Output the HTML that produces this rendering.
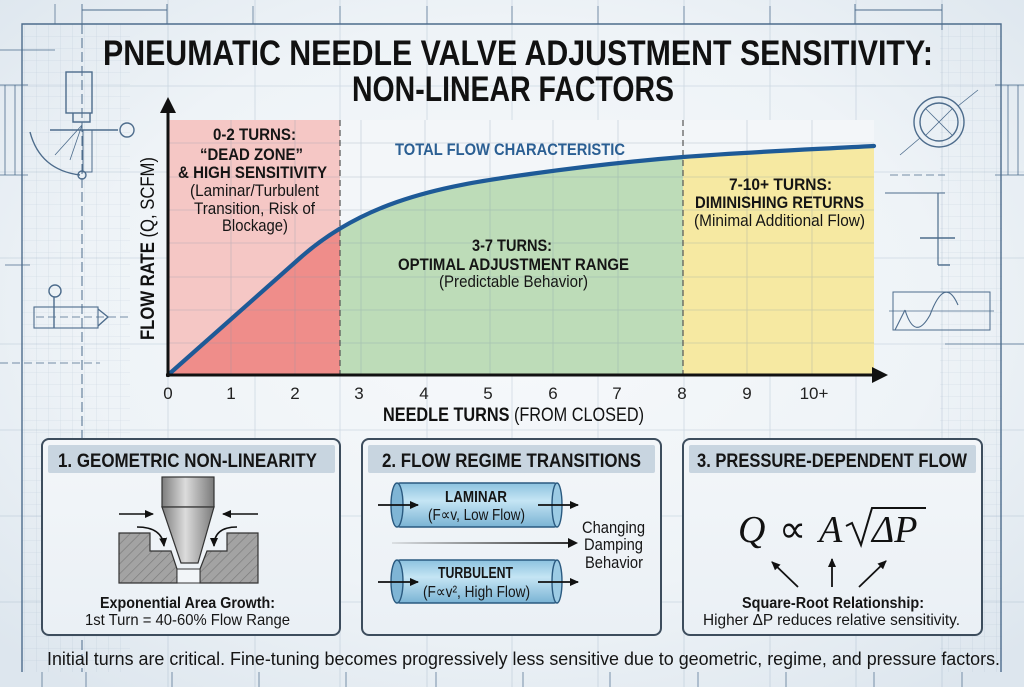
<!DOCTYPE html>
<html><head><meta charset="utf-8"><style>
html,body{margin:0;padding:0;background:#e8eef3;}
svg{display:block;}
text{font-family:"Liberation Sans",sans-serif;}
text.serif{font-family:"Liberation Serif",serif;}
</style></head><body>
<svg xmlns="http://www.w3.org/2000/svg" width="1024" height="687" viewBox="0 0 1024 687">
<defs>
<radialGradient id="bg" cx="0.5" cy="0.45" r="0.7">
<stop offset="0" stop-color="#f7f9fb"/><stop offset="0.6" stop-color="#eef3f7"/><stop offset="1" stop-color="#dde6ee"/>
</radialGradient>
<pattern id="fine" width="12" height="12" patternUnits="userSpaceOnUse">
<path d="M12 0 L0 0 0 12" fill="none" stroke="#6f8aa6" stroke-width="0.6" opacity="0.45"/>
</pattern>
<pattern id="hatch" width="7" height="7" patternUnits="userSpaceOnUse" patternTransform="rotate(45)">
<rect width="7" height="7" fill="#a3a3a3"/><line x1="0" y1="0" x2="0" y2="7" stroke="#7a7a7a" stroke-width="1.3"/>
</pattern>
<linearGradient id="metal" x1="0" x2="1" y1="0" y2="0">
<stop offset="0" stop-color="#7d7d7d"/><stop offset="0.45" stop-color="#dcdcdc"/><stop offset="1" stop-color="#7a7a7a"/>
</linearGradient>
<linearGradient id="pipe" x1="0" x2="0" y1="0" y2="1">
<stop offset="0" stop-color="#8cc2df"/><stop offset="0.4" stop-color="#c5e5f4"/><stop offset="1" stop-color="#7ab3d4"/>
</linearGradient>
<linearGradient id="panel" x1="0" x2="0" y1="0" y2="1">
<stop offset="0" stop-color="#f3f6f9"/><stop offset="1" stop-color="#eaf0f5"/>
</linearGradient>
<linearGradient id="midarrow" gradientUnits="userSpaceOnUse" x1="392" y1="543" x2="575" y2="543">
<stop offset="0" stop-color="#111" stop-opacity="0.1"/><stop offset="1" stop-color="#111"/>
</linearGradient>
<marker id="ah" markerWidth="10" markerHeight="10" refX="8" refY="5" orient="auto" markerUnits="userSpaceOnUse">
<path d="M0,1 L9,5 L0,9 Z" fill="#111"/>
</marker>
<clipPath id="cR"><rect x="168" y="100" width="172" height="276"/></clipPath>
<clipPath id="cG"><rect x="340" y="100" width="343" height="276"/></clipPath>
<clipPath id="cY"><rect x="683" y="100" width="191" height="276"/></clipPath>
</defs>

<rect width="1024" height="687" fill="url(#bg)"/>

<!-- background blueprint grid -->
<g stroke="#7d97b0" stroke-width="0.8" opacity="0.3">
<line x1="168" y1="0" x2="168" y2="687"/><line x1="255" y1="0" x2="255" y2="687"/><line x1="340" y1="0" x2="340" y2="687"/>
<line x1="427" y1="0" x2="427" y2="687"/><line x1="512" y1="0" x2="512" y2="687"/><line x1="598" y1="0" x2="598" y2="687"/>
<line x1="684" y1="0" x2="684" y2="687"/><line x1="770" y1="0" x2="770" y2="687"/><line x1="856" y1="0" x2="856" y2="687"/>
<line x1="942" y1="0" x2="942" y2="687"/>
<line x1="0" y1="86" x2="1024" y2="86"/><line x1="0" y1="172" x2="1024" y2="172"/><line x1="0" y1="258" x2="1024" y2="258"/>
<line x1="0" y1="344" x2="1024" y2="344"/><line x1="0" y1="430" x2="1024" y2="430"/><line x1="0" y1="516" x2="1024" y2="516"/>
<line x1="0" y1="602" x2="1024" y2="602"/>
</g>
<rect x="22" y="24" width="108" height="648" fill="url(#fine)" opacity="0.6"/>
<rect x="940" y="24" width="62" height="648" fill="url(#fine)" opacity="0.6"/>

<!-- frame -->
<g stroke="#4d6c8c" stroke-width="1.4" fill="none">
<polyline points="22,672 22,24 1001,24 1001,672"/>
<line x1="82" y1="24" x2="82" y2="672" stroke-dasharray="10,4" stroke-width="1"/>
<line x1="82" y1="10" x2="167" y2="10" stroke-width="0.9"/>
<line x1="82" y1="4" x2="82" y2="24" stroke-width="0.9"/><line x1="167" y1="4" x2="167" y2="24" stroke-width="0.9"/>
<line x1="855" y1="10" x2="942" y2="10" stroke-width="0.9"/>
<line x1="855" y1="4" x2="855" y2="24" stroke-width="0.9"/><line x1="942" y1="4" x2="942" y2="30" stroke-width="0.9"/>
<g stroke-width="0.9" opacity="0.8">
<line x1="55" y1="4" x2="55" y2="24"/><line x1="253" y1="6" x2="253" y2="24"/><line x1="340" y1="6" x2="340" y2="24"/><line x1="427" y1="6" x2="427" y2="24"/>
<line x1="512" y1="6" x2="512" y2="24"/><line x1="598" y1="6" x2="598" y2="24"/><line x1="684" y1="6" x2="684" y2="24"/><line x1="770" y1="6" x2="770" y2="24"/>
<line x1="42" y1="672" x2="42" y2="687"/><line x1="86" y1="672" x2="86" y2="687"/><line x1="172" y1="672" x2="172" y2="687"/><line x1="259" y1="672" x2="259" y2="687"/>
<line x1="346" y1="672" x2="346" y2="687"/><line x1="436" y1="672" x2="436" y2="687"/><line x1="523" y1="672" x2="523" y2="687"/><line x1="610" y1="672" x2="610" y2="687"/>
<line x1="698" y1="672" x2="698" y2="687"/><line x1="786" y1="672" x2="786" y2="687"/><line x1="874" y1="672" x2="874" y2="687"/><line x1="962" y1="672" x2="962" y2="687"/>
</g>
<!-- left valve drawing -->
<rect x="66" y="72" width="26" height="41"/>
<polyline points="73,113 73,122 90,122 90,113"/>
<rect x="83" y="130" width="9" height="42" stroke-width="1"/>
<line x1="50" y1="130" x2="118" y2="130"/><circle cx="127" cy="130" r="7"/>
<path d="M30,132 Q40,170 80,175"/><circle cx="82" cy="175" r="4"/>
<line x1="82" y1="125" x2="55" y2="155" stroke-width="0.8"/><line x1="82" y1="125" x2="70" y2="160" stroke-width="0.8"/>
<line x1="5" y1="85" x2="5" y2="175" stroke-width="0.8"/><line x1="15" y1="85" x2="15" y2="175" stroke-width="0.8"/>
<line x1="0" y1="85" x2="28" y2="85" stroke-width="0.8"/><line x1="0" y1="175" x2="28" y2="175" stroke-width="0.8"/>
<line x1="0" y1="50" x2="55" y2="50" stroke-width="0.8"/>
<!-- left valve symbol -->
<rect x="34" y="307" width="64" height="21" stroke-width="1.1"/>
<line x1="54" y1="297" x2="54" y2="328"/><circle cx="55" cy="291" r="6"/>
<polyline points="98,309 108,317 98,326"/>
<line x1="36" y1="317" x2="130" y2="317" stroke-dasharray="8,4" stroke-width="0.8"/>
<line x1="0" y1="363" x2="100" y2="363" stroke-dasharray="8,4" stroke-width="0.8"/>
<line x1="5" y1="265" x2="30" y2="265" stroke-width="0.8"/>
<!-- right drawings -->
<circle cx="939" cy="122" r="25"/><circle cx="939" cy="122" r="19"/>
<line x1="926" y1="109" x2="952" y2="135" stroke-width="0.8"/><line x1="952" y1="109" x2="926" y2="135" stroke-width="0.8"/>
<line x1="900" y1="155" x2="920" y2="138" stroke-width="0.8"/><line x1="958" y1="106" x2="978" y2="90" stroke-width="0.8"/>
<line x1="1008" y1="85" x2="1008" y2="175" stroke-width="0.8"/><line x1="1018" y1="85" x2="1018" y2="175" stroke-width="0.8"/>
<line x1="995" y1="85" x2="1024" y2="85" stroke-width="0.8"/><line x1="995" y1="175" x2="1024" y2="175" stroke-width="0.8"/>
<line x1="890" y1="175" x2="945" y2="175" stroke-dasharray="8,4" stroke-width="0.8"/>
<line x1="885" y1="193" x2="945" y2="193" stroke-width="1"/>
<line x1="938" y1="193" x2="938" y2="265" stroke-width="1.2"/><line x1="938" y1="265" x2="950" y2="265"/>
<line x1="920" y1="238" x2="955" y2="238"/>
<rect x="893" y="292" width="97" height="38" stroke-width="1"/>
<line x1="889" y1="311" x2="994" y2="311" stroke-width="0.8"/>
<path d="M895,330 L905,310 M905,310 Q915,342 930,315 Q945,275 958,305" stroke-width="1.1"/>
<line x1="945" y1="344" x2="1024" y2="344" stroke-width="0.8"/>
</g>

<!-- title -->
<text x="103" y="65" font-size="35" font-weight="bold" fill="#111" textLength="830" lengthAdjust="spacingAndGlyphs">PNEUMATIC NEEDLE VALVE ADJUSTMENT SENSITIVITY:</text>
<text x="352" y="101" font-size="35" font-weight="bold" fill="#111" textLength="322" lengthAdjust="spacingAndGlyphs">NON-LINEAR FACTORS</text>

<!-- plot -->
<rect x="168" y="120" width="706" height="255" fill="#f3f6f9"/>
<rect x="168" y="120" width="172" height="255" fill="#f5c7c5"/>
<g id="fills">
<path clip-path="url(#cR)" fill="#ef8d8a" d="M168,375 L300,258 C332,229.6 365,213.2 397,202 C441,186.6 486,180.2 530,174 C581,166.9 632,161.1 683,157 C747,152 810,149.5 874,146 L874,375 L168,375 Z"/>
<path clip-path="url(#cG)" fill="#bddcb8" d="M168,375 L300,258 C332,229.6 365,213.2 397,202 C441,186.6 486,180.2 530,174 C581,166.9 632,161.1 683,157 C747,152 810,149.5 874,146 L874,375 L168,375 Z"/>
<path clip-path="url(#cY)" fill="#f6e9a2" d="M168,375 L300,258 C332,229.6 365,213.2 397,202 C441,186.6 486,180.2 530,174 C581,166.9 632,161.1 683,157 C747,152 810,149.5 874,146 L874,375 L168,375 Z"/>
</g>
<g stroke="#7f93a8" stroke-width="0.8" opacity="0.35">
<line x1="168" y1="143" x2="874" y2="143"/><line x1="168" y1="177" x2="874" y2="177"/><line x1="168" y1="210" x2="874" y2="210"/>
<line x1="168" y1="243" x2="874" y2="243"/><line x1="168" y1="277" x2="874" y2="277"/><line x1="168" y1="310" x2="874" y2="310"/>
<line x1="168" y1="343" x2="874" y2="343"/>
<line x1="231" y1="120" x2="231" y2="375"/><line x1="295" y1="120" x2="295" y2="375"/><line x1="361" y1="120" x2="361" y2="375"/>
<line x1="425" y1="120" x2="425" y2="375"/><line x1="490" y1="120" x2="490" y2="375"/><line x1="553" y1="120" x2="553" y2="375"/>
<line x1="618" y1="120" x2="618" y2="375"/><line x1="747" y1="120" x2="747" y2="375"/><line x1="812" y1="120" x2="812" y2="375"/>
</g>
<line x1="340" y1="120" x2="340" y2="375" stroke="#555" stroke-width="1.2" stroke-dasharray="6,4"/>
<line x1="683" y1="120" x2="683" y2="375" stroke="#555" stroke-width="1.2" stroke-dasharray="6,4"/>
<path fill="none" stroke="#1e5a97" stroke-width="4.2" stroke-linecap="round" d="M168,375 L300,258 C332,229.6 365,213.2 397,202 C441,186.6 486,180.2 530,174 C581,166.9 632,161.1 683,157 C747,152 810,149.5 874,146"/>
<!-- axes -->
<line x1="168" y1="377" x2="168" y2="108" stroke="#111" stroke-width="3"/>
<polygon points="160,113 168,97 176,113" fill="#111"/>
<line x1="166" y1="375" x2="876" y2="375" stroke="#111" stroke-width="3"/>
<polygon points="872,367 888,375 872,383" fill="#111"/>

<!-- zone texts -->
<g font-size="17" fill="#151515">
<text x="213" y="140" font-weight="bold" textLength="83" lengthAdjust="spacingAndGlyphs">0-2 TURNS:</text>
<text x="200" y="160" font-weight="bold" textLength="103" lengthAdjust="spacingAndGlyphs">“DEAD ZONE”</text>
<text x="178" y="178" font-weight="bold" textLength="149" lengthAdjust="spacingAndGlyphs">&amp; HIGH SENSITIVITY</text>
<text x="190" y="196" textLength="129" lengthAdjust="spacingAndGlyphs">(Laminar/Turbulent</text>
<text x="194" y="214" textLength="121" lengthAdjust="spacingAndGlyphs">Transition, Risk of</text>
<text x="222" y="231" textLength="66" lengthAdjust="spacingAndGlyphs">Blockage)</text>
<text x="395" y="155" font-weight="bold" fill="#2b5f93" textLength="230" lengthAdjust="spacingAndGlyphs">TOTAL FLOW CHARACTERISTIC</text>
<text x="472" y="251" font-weight="bold" textLength="80" lengthAdjust="spacingAndGlyphs">3-7 TURNS:</text>
<text x="398" y="270" font-weight="bold" textLength="231" lengthAdjust="spacingAndGlyphs">OPTIMAL ADJUSTMENT RANGE</text>
<text x="439" y="287" textLength="149" lengthAdjust="spacingAndGlyphs">(Predictable Behavior)</text>
<text x="729" y="190" font-weight="bold" textLength="103" lengthAdjust="spacingAndGlyphs">7-10+ TURNS:</text>
<text x="695" y="208" font-weight="bold" textLength="169" lengthAdjust="spacingAndGlyphs">DIMINISHING RETURNS</text>
<text x="694" y="226" textLength="171" lengthAdjust="spacingAndGlyphs">(Minimal Additional Flow)</text>
</g>
<!-- ticks -->
<g font-size="17" fill="#222" text-anchor="middle">
<text x="168" y="399">0</text><text x="231" y="399">1</text><text x="295" y="399">2</text><text x="359" y="399">3</text>
<text x="424" y="399">4</text><text x="488" y="399">5</text><text x="553" y="399">6</text><text x="617" y="399">7</text>
<text x="682" y="399">8</text><text x="747" y="399">9</text><text x="814" y="399">10+</text>
</g>
<text x="383" y="421" font-size="19" fill="#111" textLength="261" lengthAdjust="spacingAndGlyphs"><tspan font-weight="bold">NEEDLE TURNS</tspan> (FROM CLOSED)</text>
<text transform="translate(154,340) rotate(-90)" x="0" y="0" font-size="19" fill="#111" textLength="183" lengthAdjust="spacingAndGlyphs"><tspan font-weight="bold">FLOW RATE</tspan> (Q, SCFM)</text>

<!-- panels -->
<g>
<rect x="42" y="439" width="298" height="196" rx="7" fill="url(#panel)" stroke="#3d4d5d" stroke-width="2"/>
<rect x="48" y="445" width="287" height="28" rx="2" fill="#c8d5e0"/>
<rect x="362" y="439" width="299" height="196" rx="7" fill="url(#panel)" stroke="#3d4d5d" stroke-width="2"/>
<rect x="368" y="445" width="287" height="28" rx="2" fill="#c8d5e0"/>
<rect x="683" y="439" width="299" height="196" rx="7" fill="url(#panel)" stroke="#3d4d5d" stroke-width="2"/>
<rect x="689" y="445" width="287" height="28" rx="2" fill="#c8d5e0"/>
</g>
<g font-size="19" font-weight="bold" fill="#151515">
<text x="58" y="467" textLength="259" lengthAdjust="spacingAndGlyphs">1. GEOMETRIC NON-LINEARITY</text>
<text x="382" y="467" textLength="259" lengthAdjust="spacingAndGlyphs">2. FLOW REGIME TRANSITIONS</text>
<text x="697" y="467" textLength="270" lengthAdjust="spacingAndGlyphs">3. PRESSURE-DEPENDENT FLOW</text>
</g>

<!-- panel 1 drawing -->
<g stroke="#333" stroke-width="1.2">
<polygon points="119,533 150,533 150,551 171,551 177,569 177,583 119,583" fill="url(#hatch)"/>
<polygon points="258,533 227,533 227,551 207,551 200,569 200,583 258,583" fill="url(#hatch)"/>
<rect x="177" y="569" width="23" height="14" fill="#f2f5f8" stroke-width="1"/>
<rect x="162" y="477" width="52" height="30" fill="url(#metal)"/>
<polygon points="162,507 214,507 198,563 181,563" fill="url(#metal)"/>
</g>
<g stroke="#111" stroke-width="1.6" fill="none">
<line x1="119" y1="514" x2="153" y2="514" marker-end="url(#ah)"/>
<line x1="258" y1="514" x2="223" y2="514" marker-end="url(#ah)"/>
<path d="M137,527 Q162,527 164,546" marker-end="url(#ah)"/>
<path d="M237,527 Q214,527 214,546" marker-end="url(#ah)"/>
</g>
<text x="100" y="608" font-size="16" font-weight="bold" fill="#151515" textLength="175" lengthAdjust="spacingAndGlyphs">Exponential Area Growth:</text>
<text x="85" y="625" font-size="16" fill="#151515" textLength="205" lengthAdjust="spacingAndGlyphs">1st Turn = 40-60% Flow Range</text>

<!-- panel 2 drawing -->
<g stroke="#2a5a80" stroke-width="1.4">
<rect x="397" y="483" width="160" height="44" rx="3" fill="url(#pipe)"/>
<ellipse cx="397" cy="505" rx="6" ry="22" fill="#7fb5d5"/>
<ellipse cx="557" cy="505" rx="5" ry="22" fill="#9ccbe4"/>
<rect x="397" y="560" width="160" height="43" rx="3" fill="url(#pipe)"/>
<ellipse cx="397" cy="581.5" rx="6" ry="21.5" fill="#7fb5d5"/>
<ellipse cx="557" cy="581.5" rx="5" ry="21.5" fill="#9ccbe4"/>
</g>
<g stroke="#111" stroke-width="1.8">
<line x1="378" y1="505" x2="418" y2="505" marker-end="url(#ah)"/>
<line x1="538" y1="505" x2="578" y2="505" marker-end="url(#ah)"/>
<line x1="378" y1="582" x2="418" y2="582" marker-end="url(#ah)"/>
<line x1="538" y1="582" x2="578" y2="582" marker-end="url(#ah)"/>
</g>
<line x1="392" y1="543" x2="570" y2="543" stroke="url(#midarrow)" stroke-width="1.8"/>
<polygon points="568,538 578,543 568,548" fill="#111"/>
<g font-size="16" fill="#151515">
<text x="445" y="502" font-weight="bold" textLength="62" lengthAdjust="spacingAndGlyphs">LAMINAR</text>
<text x="428" y="520" textLength="97" lengthAdjust="spacingAndGlyphs">(F∝v, Low Flow)</text>
<text x="438" y="578" font-weight="bold" textLength="75" lengthAdjust="spacingAndGlyphs">TURBULENT</text>
<text x="423" y="597" textLength="107" lengthAdjust="spacingAndGlyphs">(F∝v², High Flow)</text>
</g>
<g font-size="17" fill="#151515">
<text x="582" y="533" textLength="63" lengthAdjust="spacingAndGlyphs">Changing</text>
<text x="584" y="550" textLength="59" lengthAdjust="spacingAndGlyphs">Damping</text>
<text x="585" y="568" textLength="58" lengthAdjust="spacingAndGlyphs">Behavior</text>
</g>

<!-- panel 3 -->
<g font-size="38" fill="#111">
<text class="serif" x="738" y="542" font-style="italic">Q</text>
<text class="serif" x="779" y="542">∝</text>
<text class="serif" x="819" y="542" font-style="italic">A</text>
<text class="serif" x="872" y="542" font-style="italic">ΔP</text>
</g>
<polyline points="846,526 852,523 861,545 872,508 926,508" fill="none" stroke="#111" stroke-width="2"/>
<g stroke="#111" stroke-width="1.8">
<line x1="798" y1="587" x2="772" y2="562" marker-end="url(#ah)"/>
<line x1="832" y1="587" x2="832" y2="559" marker-end="url(#ah)"/>
<line x1="859" y1="587" x2="886" y2="561" marker-end="url(#ah)"/>
</g>
<text x="742" y="608" font-size="16" font-weight="bold" fill="#151515" textLength="182" lengthAdjust="spacingAndGlyphs">Square-Root Relationship:</text>
<text x="703" y="625" font-size="16" fill="#151515" textLength="257" lengthAdjust="spacingAndGlyphs">Higher ΔP reduces relative sensitivity.</text>

<!-- footer -->
<text x="47" y="665" font-size="18" fill="#151515" textLength="953" lengthAdjust="spacingAndGlyphs">Initial turns are critical. Fine-tuning becomes progressively less sensitive due to geometric, regime, and pressure factors.</text>
</svg>
</body></html>
